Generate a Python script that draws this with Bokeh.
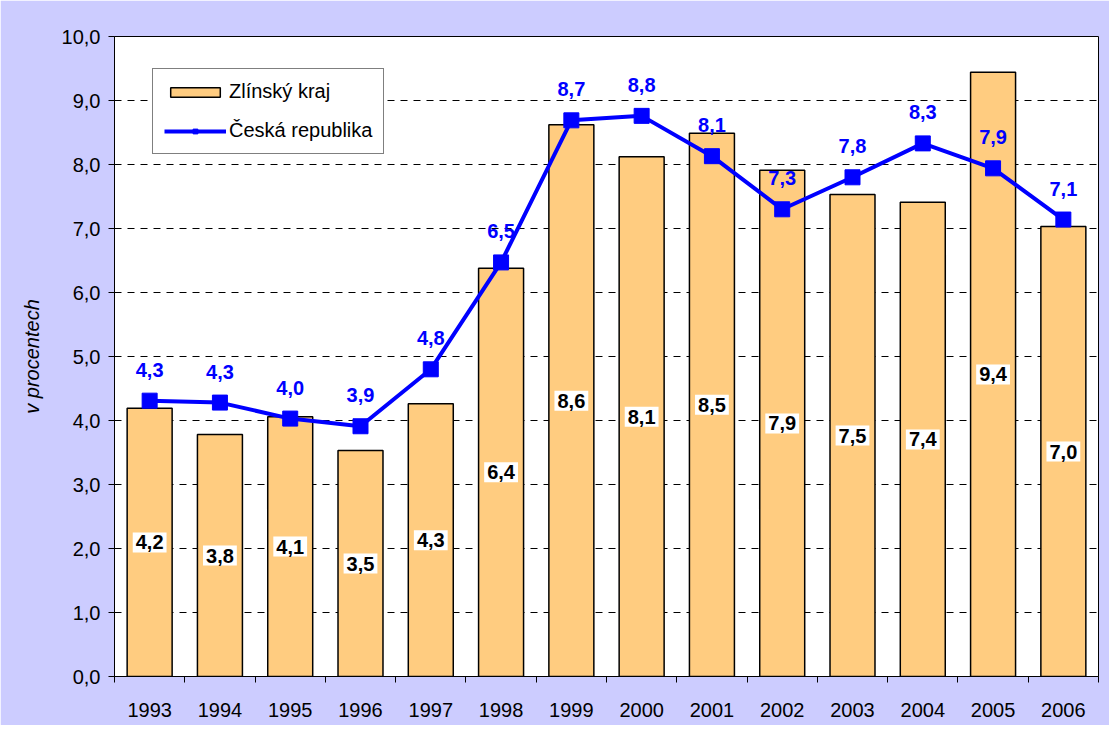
from bokeh.plotting import figure
from bokeh.models import (ColumnDataSource, FixedTicker, CustomJSTickFormatter, LabelSet, Legend,
                          LegendItem, Range1d)
from bokeh.core.properties import value
from bokeh.embed import file_html
from bokeh.resources import INLINE

years = ["1993", "1994", "1995", "1996", "1997", "1998", "1999", "2000", "2001", "2002", "2003", "2004", "2005", "2006"]
zlin = [4.19, 3.78, 4.06, 3.53, 4.26, 6.38, 8.62, 8.12, 8.49, 7.91, 7.53, 7.41, 9.44, 7.03]
cr = [4.31, 4.28, 4.03, 3.91, 4.80, 6.47, 8.69, 8.76, 8.13, 7.30, 7.80, 8.33, 7.94, 7.14]

FONT = "Liberation Sans"

def fmt(v):
    return ("%.1f" % v).replace(".", ",")

idx = list(range(len(years)))
src = ColumnDataSource(dict(
    x=idx, zlin=zlin, cr=cr,
    zmid=[v / 2 for v in zlin],
    zlab=[fmt(v) for v in zlin],
    crlab=[fmt(v) for v in cr],
))

p = figure(width=1109, height=725, output_backend="svg", toolbar_location=None,
           x_range=Range1d(-0.5, len(years) - 0.5), y_range=Range1d(0, 10),
           min_border_left=114, min_border_right=11, min_border_top=36, min_border_bottom=49)
p.background_fill_color = "white"
p.border_fill_color = "#CCCCFF"
p.outline_line_color = "black"
p.outline_line_width = 1

bars = p.vbar(x="x", top="zlin", width=0.64, source=src, fill_color="#FFCC80",
              line_color="black", line_width=1.5)
line = p.line(x="x", y="cr", source=src, line_color="#0000FF", line_width=4)
marks = p.scatter(x="x", y="cr", source=src, marker="square", size=15,
                  fill_color="#0000FF", line_color="#0000FF")

# axes
p.xaxis.ticker = FixedTicker(ticks=idx, minor_ticks=[i - 0.5 for i in range(len(years) + 1)])
p.xaxis.major_label_overrides = {i: y for i, y in enumerate(years)}
p.xaxis.major_tick_line_color = None
p.xaxis.major_tick_out = 0
p.xaxis.major_tick_in = 0
p.xaxis.minor_tick_out = 6
p.xaxis.minor_tick_in = 0
p.xaxis.minor_tick_line_color = "black"
p.xaxis.major_label_standoff = 20
p.xaxis.axis_line_color = "black"

p.yaxis.ticker = FixedTicker(ticks=list(range(0, 11)))
p.yaxis.formatter = CustomJSTickFormatter(code="return tick.toFixed(1).replace('.', ',');")
p.yaxis.major_tick_out = 6
p.yaxis.major_tick_in = 0
p.yaxis.minor_tick_line_color = None
p.yaxis.major_label_standoff = 8
p.yaxis.axis_label = "v procentech"
p.yaxis.axis_label_text_font_style = "italic"
p.yaxis.axis_label_text_font_size = "20px"
p.yaxis.axis_label_text_font = FONT
p.yaxis.axis_label_text_color = "black"
p.yaxis.axis_label_standoff = 16
p.yaxis.axis_line_color = "black"

for ax in (p.xaxis[0], p.yaxis[0]):
    ax.major_label_text_font = FONT
    ax.major_label_text_font_size = "20px"
    ax.major_label_text_color = "black"

p.xgrid.grid_line_color = None
p.ygrid.ticker = FixedTicker(ticks=list(range(1, 10)))
p.ygrid.grid_line_color = "black"
p.ygrid.grid_line_dash = "7 6"
p.ygrid.grid_line_width = 1

# labels
p.text(x="x", y="zmid", text="zlab", source=src, text_align="center",
       text_baseline="middle", text_font=value(FONT), text_font_size="20px",
       text_font_style="bold", text_color="black",
       background_fill_color="white", padding=3)

line_labels = LabelSet(x="x", y="cr", text="crlab", source=src, text_align="center",
                       text_baseline="middle", y_offset=31, text_font=value(FONT),
                       text_font_size="20px", text_font_style="bold", text_color="#0000FF")
p.add_layout(line_labels)

legend = Legend(items=[LegendItem(label="Zlínský kraj", renderers=[bars]),
                       LegendItem(label="Česká republika", renderers=[line, marks])],
                location=(38, 522), orientation="vertical")
legend.label_text_font = FONT
legend.label_text_font_size = "20px"
legend.label_text_color = "black"
legend.glyph_width = 62
legend.glyph_height = 12
legend.label_height = 22
legend.spacing = 16
legend.padding = 11
legend.margin = 0
legend.label_standoff = 3
legend.border_line_color = "black"
legend.border_line_width = 1
legend.background_fill_color = "white"
legend.background_fill_alpha = 1
p.add_layout(legend)

open("out.html", "w").write(file_html(p, INLINE))
